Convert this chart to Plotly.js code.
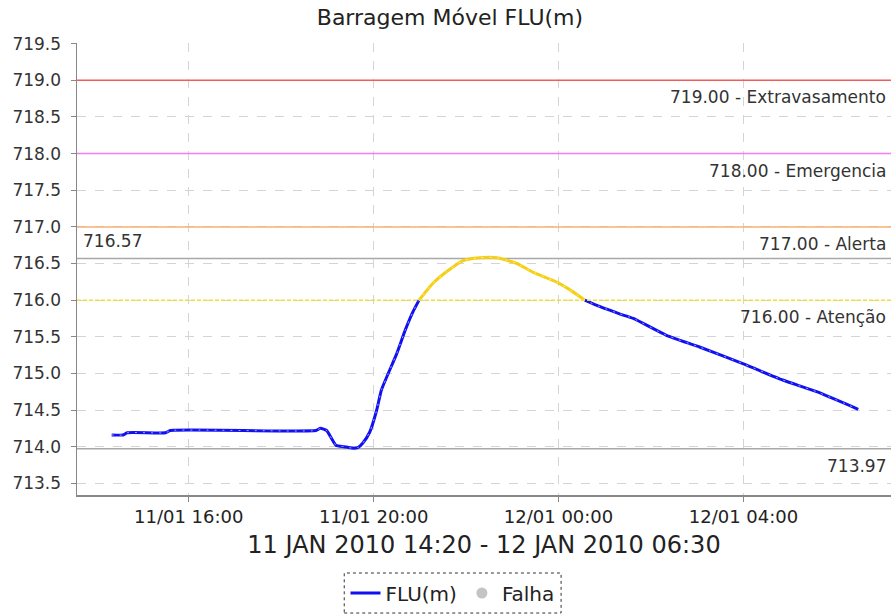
<!DOCTYPE html>
<html>
<head>
<meta charset="utf-8">
<script src="https://cdn.plot.ly/plotly-3.0.1.min.js"></script>
<style>html,body{margin:0;padding:0;background:#fff;}#chart{width:891px;height:614px;}</style>
</head>
<body>
<div id="chart"></div>
<script>
// ---- data ----
const times = [
  '2010-01-11 14:20','2010-01-11 14:35','2010-01-11 14:40','2010-01-11 15:30','2010-01-11 15:36',
  '2010-01-11 18:45','2010-01-11 18:51','2010-01-11 18:59','2010-01-11 19:11','2010-01-11 19:22',
  '2010-01-11 19:32','2010-01-11 19:40','2010-01-11 19:46','2010-01-11 19:55','2010-01-11 20:04',
  '2010-01-11 20:10','2010-01-11 20:19','2010-01-11 20:30','2010-01-11 20:41','2010-01-11 20:51',
  '2010-01-11 20:59','2010-01-11 21:17','2010-01-11 21:35','2010-01-11 21:56','2010-01-11 22:18',
  '2010-01-11 22:40','2010-01-11 23:06','2010-01-11 23:27','2010-01-11 23:57','2010-01-12 00:15',
  '2010-01-12 00:34','2010-01-12 00:54','2010-01-12 01:20','2010-01-12 01:37','2010-01-12 02:20',
  '2010-01-12 03:03','2010-01-12 04:00','2010-01-12 04:51','2010-01-12 05:35','2010-01-12 06:29'
];
const levels = [
  714.16, 714.16, 714.19, 714.19, 714.22,
  714.22, 714.25, 714.22, 714.02, 714.00,
  713.98, 713.99, 714.05, 714.20, 714.50,
  714.77, 715.00, 715.27, 715.59, 715.84,
  716.00, 716.23, 716.39, 716.54, 716.58,
  716.58, 716.50, 716.38, 716.25, 716.14,
  716.00, 715.91, 715.81, 715.75, 715.52,
  715.36, 715.13, 714.91, 714.75, 714.51
];
const thresholdValues = [719.00, 718.00, 717.00, 716.00];
const thresholdNames = ['Extravasamento', 'Emergencia', 'Alerta', 'Atenção'];
const thresholdColors = ['#f45a5a', '#f47cf4', '#f8b070', '#f2dc3c'];
const peakValue = 716.57;
const lowValue = 713.97;
const tickVals = ['2010-01-11 16:00','2010-01-11 20:00','2010-01-12 00:00','2010-01-12 04:00'];
const tickText = ['11/01 16:00','11/01 20:00','12/01 00:00','12/01 04:00'];
const xRange = ['2010-01-11 13:35','2010-01-12 07:11:30'];
const yRange = [713.34, 719.51];
const attention = 716.00;

// split the series into blue (<= attention) and yellow (>= attention) runs
const bx = [], by = [], yx = [], yy = [];
for (let i = 0; i < times.length - 1; i++) {
  const hi = levels[i] >= attention && levels[i+1] >= attention;
  const tx = hi ? yx : bx, ty = hi ? yy : by;
  if (tx.length && tx[tx.length-1] !== times[i]) { tx.push(null); ty.push(null); }
  if (!tx.length || tx[tx.length-1] === null) { tx.push(times[i]); ty.push(levels[i]); }
  tx.push(times[i+1]); ty.push(levels[i+1]);
}

const FONT = 'DejaVu Sans, Verdana, sans-serif';

const traces = [
  {x: bx, y: by, type: 'scatter', mode: 'lines', name: 'FLU(m)',
   line: {color: '#1010f0', width: 3, shape: 'spline', smoothing: 0.5}, connectgaps: false, hoverinfo: 'skip'},
  {x: yx, y: yy, type: 'scatter', mode: 'lines', name: 'FLU(m) ', showlegend: false,
   line: {color: '#f5cf10', width: 3, shape: 'spline', smoothing: 0.5}, hoverinfo: 'skip'},
  {x: times, y: levels, type: 'scatter', mode: 'lines', showlegend: false,
   line: {color: 'rgba(255,255,255,0.6)', width: 1, dash: '2px,6px', shape: 'spline', smoothing: 0.5}, hoverinfo: 'skip'},
  {x: [null], y: [null], type: 'scatter', mode: 'markers', name: 'Falha',
   marker: {color: '#c4c4c4', size: 11}}
];

const shapes = [];
const annotations = [];
thresholdValues.forEach((v, i) => {
  shapes.push({type: 'line', xref: 'paper', x0: 0, x1: 1, yref: 'y', y0: v, y1: v,
    line: {color: thresholdColors[i], width: 1.5, dash: i === 3 ? '4px,2px' : 'solid'}, layer: 'above'});
  annotations.push({xref: 'paper', x: 0.996, xanchor: 'right', yref: 'y', y: v, yanchor: 'top', yshift: -5,
    text: v.toFixed(2) + ' - ' + thresholdNames[i], showarrow: false,
    font: {family: FONT, size: 17, color: '#333'}});
});
[peakValue, lowValue].forEach(v => {
  shapes.push({type: 'line', xref: 'paper', x0: 0, x1: 1, yref: 'y', y0: v, y1: v,
    line: {color: '#a8a8a8', width: 1.5}, layer: 'below'});
});
annotations.push({xref: 'paper', x: 0.005, xanchor: 'left', yref: 'y', y: peakValue, yanchor: 'bottom', yshift: 5,
  text: peakValue.toFixed(2), showarrow: false, font: {family: FONT, size: 17, color: '#333'}});
annotations.push({xref: 'paper', x: 0.996, xanchor: 'right', yref: 'y', y: lowValue, yanchor: 'top', yshift: -5,
  text: lowValue.toFixed(2), showarrow: false, font: {family: FONT, size: 17, color: '#333'}});
// dashed legend frame
shapes.push({type: 'rect', xref: 'paper', yref: 'paper', x0: 0.3283, x1: 0.5947, y0: -0.2611, y1: -0.1726,
  line: {color: '#333', width: 1, dash: 'dot'}, fillcolor: 'rgba(0,0,0,0)'});

const layout = {
  width: 891, height: 614,
  margin: {l: 77, r: 0, t: 43, b: 119},
  paper_bgcolor: '#fff', plot_bgcolor: '#fff',
  font: {family: FONT, color: '#333'},
  title: {text: 'Barragem Móvel FLU(m)', x: 0.505, xref: 'container', xanchor: 'center',
          y: 0.972, yref: 'container', yanchor: 'middle', font: {family: FONT, size: 22, color: '#222'}},
  xaxis: {type: 'date', range: xRange, tickvals: tickVals, ticktext: tickText,
          showgrid: true, gridcolor: '#d4d4d4', griddash: 'dash', gridwidth: 1,
          showline: true, linecolor: '#888', linewidth: 1.5, ticks: 'outside', ticklen: 5, tickcolor: '#888',
          tickfont: {family: FONT, size: 18, color: '#222'}, zeroline: false,
          title: {text: '11 JAN 2010 14:20 - 12 JAN 2010 06:30', standoff: 10,
                  font: {family: FONT, size: 24, color: '#222'}}},
  yaxis: {range: yRange, dtick: 0.5, tick0: 713.5, tickformat: '.1f',
          showgrid: true, gridcolor: '#d4d4d4', griddash: 'dash', gridwidth: 1,
          showline: true, linecolor: '#888', linewidth: 1.5, ticks: 'outside', ticklen: 5, tickcolor: '#888',
          ticklabelstandoff: 6,
          tickfont: {family: FONT, size: 17, color: '#333'}, zeroline: false},
  showlegend: true,
  legend: {orientation: 'h', x: 0.4613, xanchor: 'center', y: -0.2168, yanchor: 'middle',
           font: {family: FONT, size: 20, color: '#222'}, bgcolor: 'rgba(0,0,0,0)', borderwidth: 0,
           itemwidth: 30, tracegroupgap: 0},
  shapes: shapes,
  annotations: annotations
};

Plotly.newPlot('chart', traces, layout, {displayModeBar: false, staticPlot: true});
</script>
</body>
</html>
